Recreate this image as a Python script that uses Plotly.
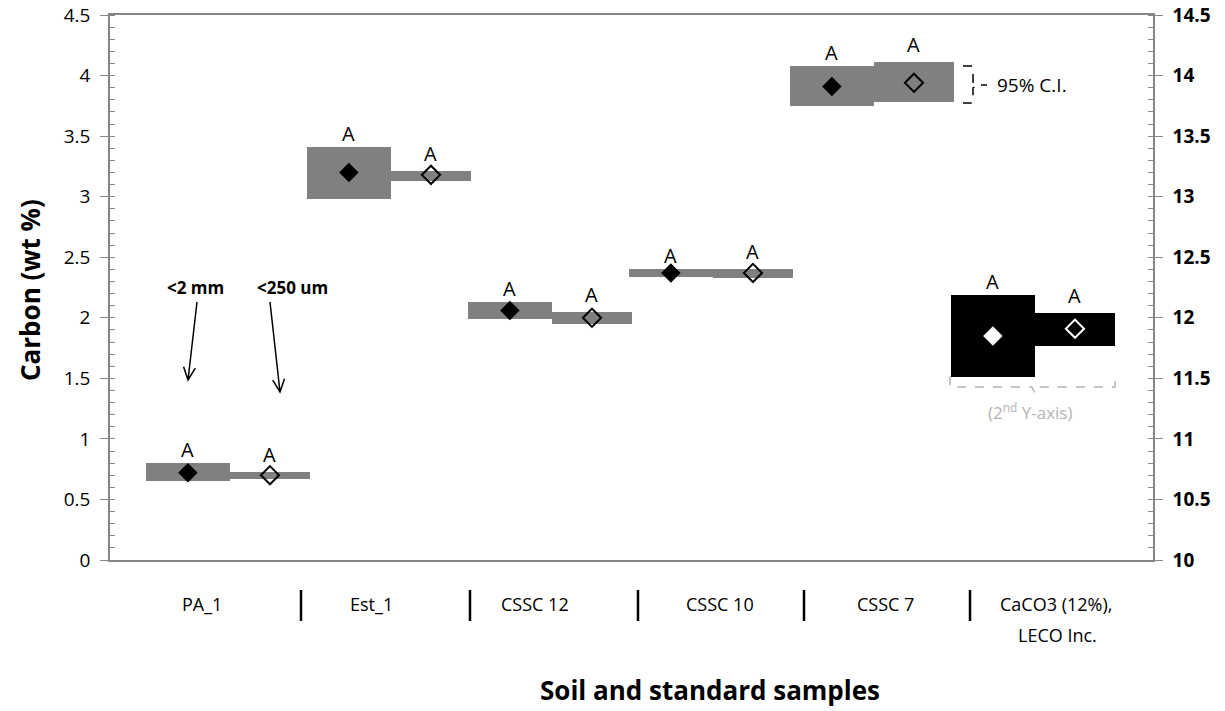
import numpy as np
import plotly.graph_objects as go

# ---------------- data ----------------
categories = ["PA_1", "Est_1", "CSSC 12", "CSSC 10", "CSSC 7", "CaCO3 (12%),"]
# <2 mm (left box) : mean, lower CI, upper CI
mm2_mean = [0.72, 3.20, 2.06, 2.37, 3.91, 11.85]
mm2_low = [0.65, 2.98, 1.99, 2.34, 3.75, 11.51]
mm2_high = [0.80, 3.41, 2.13, 2.40, 4.08, 12.19]
# <250 um (right box)
um250_mean = [0.70, 3.18, 2.00, 2.37, 3.94, 11.91]
um250_low = [0.67, 3.13, 1.95, 2.33, 3.78, 11.77]
um250_high = [0.73, 3.21, 2.05, 2.40, 4.11, 12.04]
letters_mm2 = ["A", "A", "A", "A", "A", "A"]
letters_um = ["A", "A", "A", "A", "A", "A"]
left_ticks = [0, 0.5, 1, 1.5, 2, 2.5, 3, 3.5, 4, 4.5]
right_ticks = [10, 10.5, 11, 11.5, 12, 12.5, 13, 13.5, 14, 14.5]

# ---------------- geometry helpers ----------------
W, H = 1225, 711
L, R, T, B = 110, 1153, 15, 560
X0PX, GPX = 146, 161  # first group start and group spacing in px
xr = [(L - X0PX) / GPX, (R - X0PX) / GPX]
ppu = (B - T) / 4.5


def px2x(p):
    return (p - X0PX) / GPX


def px2y(p):
    return (B - p) / ppu


def px2y2(p):
    return 10 + (B - p) / ppu


def py_paper(p):
    return (B - p) / (B - T)


w1, w2 = 0.52, 0.50
n = len(categories)
c1 = [i + w1 / 2 for i in range(n)]
c2 = [i + w1 + w2 / 2 for i in range(n)]

GRAY = "#808080"
fig = go.Figure()

for idx in range(n):
    on2 = idx == n - 1
    ya = "y2" if on2 else "y"
    boxcol = "black" if on2 else GRAY
    fig.add_trace(go.Bar(x=[c1[idx]], y=[mm2_high[idx] - mm2_low[idx]], base=[mm2_low[idx]],
                         width=w1, marker=dict(color=boxcol, line=dict(width=0)), yaxis=ya,
                         showlegend=False, hoverinfo="skip"))
    fig.add_trace(go.Bar(x=[c2[idx]], y=[um250_high[idx] - um250_low[idx]], base=[um250_low[idx]],
                         width=w2, marker=dict(color=boxcol, line=dict(width=0)), yaxis=ya,
                         showlegend=False, hoverinfo="skip"))
    fig.add_trace(go.Scatter(x=[c1[idx]], y=[mm2_mean[idx]], mode="markers", yaxis=ya,
                             marker=dict(symbol="diamond", size=15,
                                         color="white" if on2 else "black",
                                         line=dict(width=0)), showlegend=False))
    fig.add_trace(go.Scatter(x=[c2[idx]], y=[um250_mean[idx]], mode="markers", yaxis=ya,
                             marker=dict(symbol="diamond-open", size=14,
                                         color="white" if on2 else "black",
                                         line=dict(width=2)), showlegend=False))

annots = []
shapes = []
AF = dict(family="Open Sans, DejaVu Sans", size=20, color="black")
for idx in range(n):
    yr = "y2" if idx == n - 1 else "y"
    annots.append(dict(x=c1[idx], y=mm2_high[idx], xref="x", yref=yr, text=letters_mm2[idx],
                       showarrow=False, yanchor="bottom", yshift=-2, font=AF))
    annots.append(dict(x=c2[idx], y=um250_high[idx], xref="x", yref=yr, text=letters_um[idx],
                       showarrow=False, yanchor="bottom", yshift=2, font=AF))

# category labels and separators
label_px = [202, 371, 535, 720, 885, 1056]
LF = dict(family="Open Sans, DejaVu Sans", size=18, color="black")
for lab, p in zip(categories, label_px):
    annots.append(dict(x=px2x(p), y=py_paper(604), xref="x", yref="paper", text=lab,
                       xanchor="center", yanchor="middle", showarrow=False, font=LF))
annots.append(dict(x=px2x(1057), y=py_paper(635), xref="x", yref="paper", text="LECO Inc.",
                   xanchor="center", yanchor="middle", showarrow=False, font=LF))
for p in [301, 470, 638, 804, 970]:
    shapes.append(dict(type="line", xref="x", yref="paper", x0=px2x(p), x1=px2x(p),
                       y0=py_paper(590), y1=py_paper(621), line=dict(color="black", width=2.5)))

# axis titles
annots.append(dict(x=(30 - L) / (R - L), y=py_paper(290), xref="paper", yref="paper",
                   xanchor="center", yanchor="middle",
                   text="<b>Carbon (wt %)</b>", textangle=-90, showarrow=False,
                   font=dict(family="Open Sans, DejaVu Sans", size=26, color="black")))
annots.append(dict(x=(710 - L) / (R - L), y=py_paper(690), xref="paper", yref="paper",
                   xanchor="center", yanchor="middle",
                   text="<b>Soil and standard samples</b>", showarrow=False,
                   font=dict(family="Open Sans, DejaVu Sans", size=26, color="black")))

# size arrows
BF = dict(family="Open Sans, DejaVu Sans", size=17, color="black")
annots.append(dict(x=px2x(195), y=px2y(287), xref="x", yref="y", text="<b><2 mm</b>",
                   showarrow=False, font=BF))
annots.append(dict(x=px2x(292), y=px2y(287), xref="x", yref="y", text="<b><250 um</b>",
                   showarrow=False, font=BF))


def arrow_path(tx, ty, hx, hy, hl=14, ang=25):
    d = np.array([hx - tx, hy - ty], dtype=float)
    d /= np.linalg.norm(d)
    pts = []
    for s in (+1, -1):
        a = np.radians(ang * s)
        rot = np.array([[np.cos(a), -np.sin(a)], [np.sin(a), np.cos(a)]])
        v = rot @ (-d) * hl
        pts.append((hx + v[0], hy + v[1]))
    f = lambda px, py: f"{px2x(px):.4f},{px2y(py):.4f}"
    return (f"M {f(tx, ty)} L {f(hx, hy)} M {f(*pts[0])} L {f(hx, hy)} L {f(*pts[1])}")


shapes.append(dict(type="path", xref="x", yref="y", path=arrow_path(197, 302, 188, 380),
                   line=dict(color="black", width=1.5)))
shapes.append(dict(type="path", xref="x", yref="y", path=arrow_path(270, 302, 280, 392),
                   line=dict(color="black", width=1.5)))

# 95% C.I. bracket
bx0, bx1, bx2 = px2x(963), px2x(973), px2x(978)
yt, yb, ym = px2y(66), px2y(103), px2y(85)
e = (yt - yb) * 0.08
shapes.append(dict(type="path", xref="x", yref="y",
                   path=(f"M {bx0},{yt} L {bx1},{yt} L {bx1},{ym + e} L {bx2},{ym} "
                         f"L {bx1},{ym - e} L {bx1},{yb} L {bx0},{yb}"),
                   line=dict(color="black", width=1.5, dash="dash")))
shapes.append(dict(type="line", xref="x", yref="y", x0=px2x(981), x1=px2x(987), y0=ym, y1=ym,
                   line=dict(color="black", width=1.5)))
annots.append(dict(x=px2x(995), y=ym, xref="x", yref="y", text="95% C.I.", showarrow=False,
                   xanchor="left", font=dict(family="Open Sans, DejaVu Sans", size=19, color="black")))

# 2nd Y-axis bracket
gx0, gxm, gx1 = px2x(950), px2x(1035), px2x(1115)
gt, gb, gm = px2y2(376), px2y2(387), px2y2(393)
shapes.append(dict(type="path", xref="x", yref="y2",
                   path=(f"M {gx0},{gt} L {gx0},{gb} L {gxm - 0.02},{gb} L {gxm},{gm} "
                         f"L {gxm + 0.02},{gb} L {gx1},{gb} L {gx1},{gt}"),
                   line=dict(color="#b4b4b4", width=1.5, dash="dash")))
annots.append(dict(x=px2x(1030), y=px2y2(411), xref="x", yref="y2",
                   text="(2<sup>nd</sup> Y-axis)", showarrow=False,
                   font=dict(family="Open Sans, DejaVu Sans", size=17, color="#b4b4b4")))

AX = "#868686"
TF = dict(family="Open Sans, DejaVu Sans", size=19, color="black")
fig.update_layout(
    width=W, height=H,
    margin=dict(l=L, r=W - R, t=T, b=H - B),
    plot_bgcolor="white", paper_bgcolor="white",
    barmode="overlay", bargap=0,
    showlegend=False,
    xaxis=dict(range=xr, showgrid=False, zeroline=False, showline=True, linecolor=AX,
               linewidth=1.5, mirror=True, showticklabels=False, ticks="", automargin=False),
    yaxis=dict(range=[0, 4.5], tickvals=left_ticks, ticktext=[f"{v:g}" for v in left_ticks],
               showgrid=False, zeroline=False, showline=True, linecolor=AX, linewidth=1.5,
               ticks="outside", ticklen=8, tickcolor=AX, tickfont=TF, ticklabelstandoff=6,
               automargin=False,
               minor=dict(dtick=0.1, ticks="inside", ticklen=5, tickcolor=AX)),
    yaxis2=dict(range=[10, 14.5], tickvals=right_ticks, ticktext=[f"<b>{v:g}</b>" for v in right_ticks],
                overlaying="y", side="right", showgrid=False, zeroline=False, showline=True,
                linecolor=AX, linewidth=1.5, ticks="outside", ticklen=8, tickcolor=AX,
                tickfont=TF, ticklabelstandoff=6, automargin=False,
                minor=dict(dtick=0.1, ticks="inside", ticklen=5, tickcolor=AX)),
    annotations=annots, shapes=shapes,
)

fig.write_html("out.html")
